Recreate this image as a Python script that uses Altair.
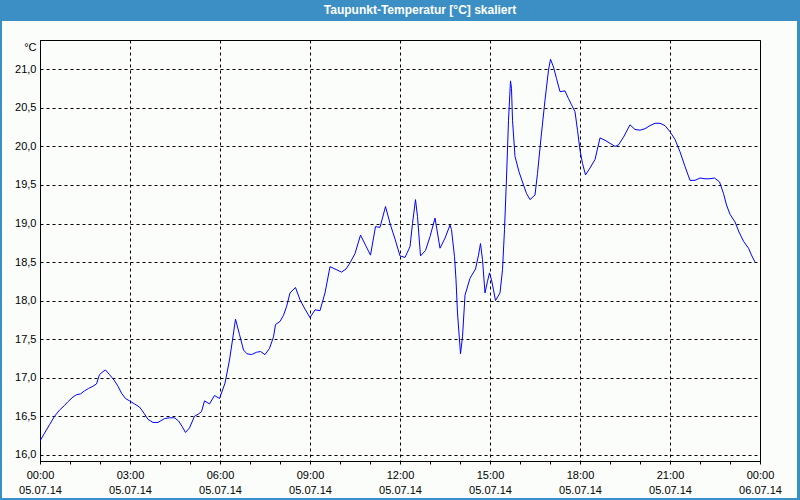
import altair as alt
import pandas as pd

# ---- data ----
times = [
    "00:00", "00:09", "00:19", "00:29", "00:39", "00:49", "00:56", "01:06", "01:13", "01:21",
    "01:29", "01:37", "01:46", "01:53", "01:59", "02:06", "02:11", "02:19", "02:28", "02:36",
    "02:43", "02:51", "02:59", "03:09", "03:19", "03:28", "03:36", "03:46", "03:56", "04:09",
    "04:19", "04:29", "04:37", "04:44", "04:51", "04:59", "05:09", "05:17", "05:23", "05:29",
    "05:39", "05:49", "05:59", "06:10", "06:19", "06:25", "06:31", "06:39", "06:47", "06:54",
    "07:03", "07:13", "07:21", "07:30", "07:39", "07:47", "07:51", "08:00", "08:07", "08:13",
    "08:20", "08:31", "08:40", "08:50", "09:00", "09:10", "09:20", "09:30", "09:40", "09:50",
    "10:03", "10:12", "10:20", "10:30", "10:41", "10:51", "11:01", "11:11", "11:20", "11:31",
    "11:41", "11:50", "12:00", "12:10", "12:20", "12:25", "12:31", "12:35", "12:41", "12:51",
    "13:00", "13:10", "13:20", "13:30", "13:40", "13:43", "13:49", "13:52", "13:55", "14:01",
    "14:05", "14:10", "14:20", "14:31", "14:37", "14:41", "14:45", "14:50", "14:55", "14:59",
    "15:03", "15:07", "15:11", "15:20", "15:25", "15:29", "15:33", "15:37", "15:41", "15:43",
    "15:45", "15:50", "15:58", "16:07", "16:13", "16:20", "16:30", "16:35", "16:42", "16:50",
    "16:57", "17:01", "17:07", "17:13", "17:20", "17:30", "17:37", "17:43", "17:50", "17:55",
    "18:00", "18:05", "18:11", "18:20", "18:30", "18:40", "18:50", "19:00", "19:10", "19:17",
    "19:27", "19:40", "19:50", "20:00", "20:10", "20:20", "20:30", "20:40", "20:50", "21:00",
    "21:10", "21:20", "21:30", "21:40", "21:50", "22:00", "22:10", "22:20", "22:29", "22:39",
    "22:47", "22:53", "23:00", "23:10", "23:18", "23:27", "23:37", "23:43", "23:50",
]
values = [
    16.18, 16.28, 16.39, 16.50, 16.58, 16.64, 16.69, 16.75, 16.78, 16.79,
    16.83, 16.86, 16.89, 16.92, 17.04, 17.08, 17.10, 17.04, 16.97, 16.89,
    16.80, 16.73, 16.70, 16.66, 16.62, 16.54, 16.46, 16.42, 16.42, 16.47,
    16.48, 16.48, 16.44, 16.37, 16.29, 16.35, 16.50, 16.53, 16.56, 16.70,
    16.66, 16.77, 16.73, 16.93, 17.23, 17.49, 17.76, 17.56, 17.36, 17.31,
    17.30, 17.33, 17.34, 17.30, 17.38, 17.53, 17.69, 17.73, 17.81, 17.92,
    18.10, 18.17, 18.01, 17.89, 17.78, 17.88, 17.87, 18.10, 18.44, 18.41,
    18.37, 18.41, 18.49, 18.61, 18.85, 18.72, 18.59, 18.96, 18.95, 19.22,
    18.98, 18.80, 18.58, 18.56, 18.70, 19.00, 19.31, 19.09, 18.58, 18.65,
    18.83, 19.07, 18.68, 18.81, 18.98, 18.92, 18.57, 18.27, 17.84, 17.31,
    17.53, 18.07, 18.29, 18.41, 18.59, 18.74, 18.53, 18.10, 18.25, 18.36,
    18.27, 18.14, 18.00, 18.10, 18.40, 18.92, 19.59, 20.34, 20.85, 20.75,
    20.34, 19.87, 19.67, 19.50, 19.39, 19.31, 19.37, 19.65, 20.11, 20.60,
    20.99, 21.13, 21.03, 20.88, 20.71, 20.72, 20.62, 20.54, 20.45, 20.21,
    19.95, 19.78, 19.63, 19.72, 19.83, 20.11, 20.08, 20.04, 20.00, 20.02,
    20.12, 20.28, 20.22, 20.21, 20.23, 20.27, 20.30, 20.30, 20.27, 20.19,
    20.09, 19.93, 19.74, 19.56, 19.56, 19.59, 19.58, 19.58, 19.59, 19.54,
    19.39, 19.24, 19.12, 19.02, 18.89, 18.77, 18.68, 18.59, 18.50,
]
y_ticks = [16.0, 16.5, 17.0, 17.5, 18.0, 18.5, 19.0, 19.5, 20.0, 20.5, 21.0]
hour_ticks = [h * 60 for h in range(25)]
title_text = "Taupunkt-Temperatur [°C] skaliert"
unit_text = "°C"


def to_minutes(t):
    h, m = t.split(":")
    return int(h) * 60 + int(m)


df = pd.DataFrame({"minute": [to_minutes(t) for t in times], "value": values})

BG = "#FBFDFB"
BLUE = "#3C8FC5"
FONT = "Liberation Sans"
W, H = 720, 421

x_label_expr = (
    "datum.value % 180 === 0 ? ["
    "(floor(datum.value/60) % 24 < 10 ? '0' : '') + (floor(datum.value/60) % 24) + ':00', "
    "datum.value >= 1440 ? '06.07.14' : '05.07.14'] : ''"
)

x_axis = alt.Axis(
    values=hour_ticks,
    labelExpr=x_label_expr,
    labelFont=FONT, labelFontSize=11, labelColor="#000000",
    labelFlush=False, labelBound=False, labelOverlap=False,
    labelAngle=0, labelAlign="center", labelBaseline="top",
    labelLineHeight=15, labelPadding=5,
    ticks=True, tickSize=3, tickColor="#000000", tickWidth=1,
    domain=True, domainColor="#000000", domainWidth=1,
    grid=True, gridColor="#000000", gridDash=[3, 3], gridWidth=1,
    gridOpacity={"condition": {"test": "datum.value % 180 === 0", "value": 1}, "value": 0},
    title=None,
)

y_axis = alt.Axis(
    values=y_ticks,
    labelExpr="replace(format(datum.value, '.1f'), '.', ',')",
    labelFont=FONT, labelFontSize=11, labelColor="#000000",
    labelPadding=4, labelOverlap=False, labelFlush=False, labelBound=False,
    ticks=False, tickSize=0,
    domain=True, domainColor="#000000", domainWidth=1,
    grid=True, gridColor="#000000", gridDash=[3, 3], gridWidth=1,
    title=unit_text, titleFont=FONT, titleFontSize=11, titleFontWeight="normal",
    titleColor="#000000", titleAngle=0, titleAlign="right", titleBaseline="middle",
    titleX=-4, titleY=7,
)

line = alt.Chart(df).mark_line(color="#0000FF", strokeWidth=1, clip=True).encode(
    x=alt.X("minute:Q", scale=alt.Scale(domain=[0, 1440], nice=False, zero=False), axis=x_axis),
    y=alt.Y("value:Q", scale=alt.Scale(domain=[15.92, 21.38], nice=False, zero=False), axis=y_axis),
)

one = alt.Data(values=[{}])

title_bar = alt.Chart(one).mark_rect(color=BLUE).encode(
    x=alt.value(-40), x2=alt.value(760), y=alt.value(-40), y2=alt.value(-19)
)
left_border = alt.Chart(one).mark_rect(color=BLUE).encode(
    x=alt.value(-40), x2=alt.value(-38), y=alt.value(-40), y2=alt.value(460)
)
right_border = alt.Chart(one).mark_rect(color=BLUE).encode(
    x=alt.value(757), x2=alt.value(760), y=alt.value(-40), y2=alt.value(460)
)
bottom_border = alt.Chart(one).mark_rect(color=BLUE).encode(
    x=alt.value(-40), x2=alt.value(760), y=alt.value(458), y2=alt.value(460)
)
title = alt.Chart(one).mark_text(
    text=title_text, font=FONT, fontSize=12, fontWeight="bold", color="#FFFFFF",
    align="center", baseline="middle",
).encode(x=alt.value(380), y=alt.value(-30))

chart = alt.layer(
    line, title_bar, left_border, right_border, bottom_border, title
).properties(
    width=W, height=H,
    background=BG,
    padding={"left": 40, "top": 40, "right": 40, "bottom": 39},
    autosize=alt.AutoSizeParams(type="none"),
).configure_view(
    fill=BG, stroke="#000000", strokeWidth=1
)

chart.save("out.html", embed_options={"renderer": "svg", "actions": False})
